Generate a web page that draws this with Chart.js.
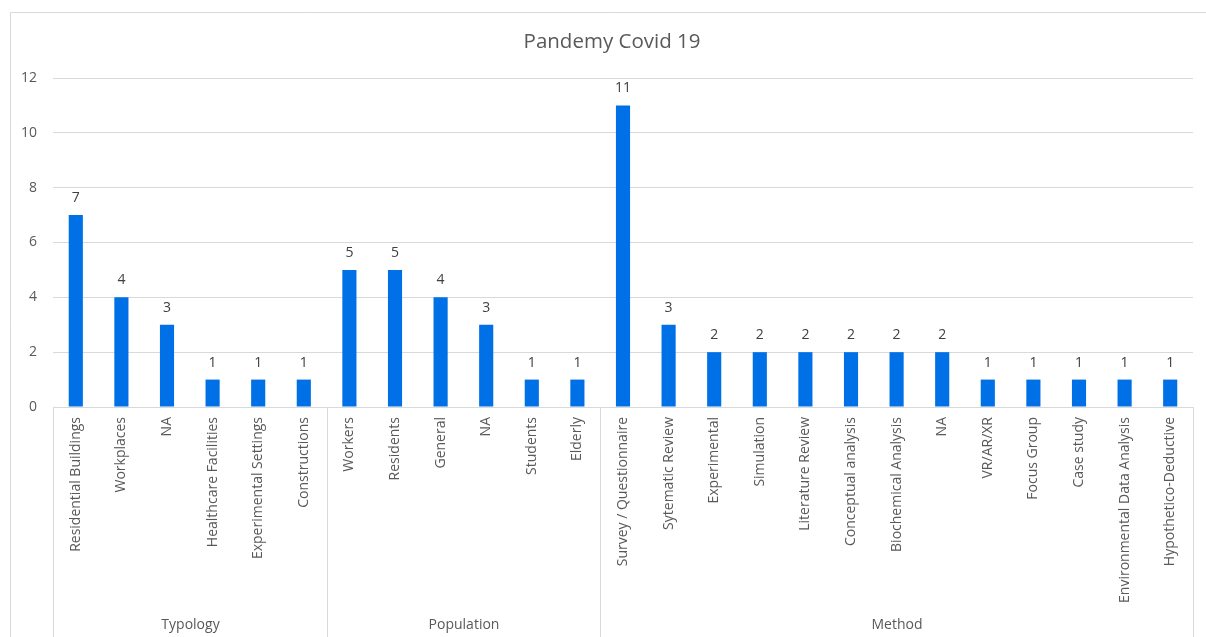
<!DOCTYPE html>
<html>
<head>
<meta charset="utf-8">
<script src="https://cdn.jsdelivr.net/npm/chart.js@4/dist/chart.umd.min.js"></script>
<style>
  html, body { margin: 0; padding: 0; background: #fff; }
  #wrap { width: 1206px; height: 637px; position: relative; }
</style>
</head>
<body>
<div id="wrap"><canvas id="c" width="1206" height="637"></canvas></div>
<script>
// Categories (inner level) and their groups (outer level)
const categories = [
  "Residential Buildings", "Workplaces", "NA", "Healthcare Facilities", "Experimental Settings", "Constructions",
  "Workers", "Residents", "General", "NA", "Students", "Elderly",
  "Survey / Questionnaire", "Sytematic Review", "Experimental", "Simulation", "Literature Review",
  "Conceptual analysis", "Biochemical Analysis", "NA", "VR/AR/XR", "Focus Group", "Case study",
  "Environmental Data Analysis", "Hypothetico-Deductive"
];
const groupNames = ["Typology", "Population", "Method"];
const groupSizes = [6, 6, 13];
const counts = [7, 4, 3, 1, 1, 1, 5, 5, 4, 3, 1, 1, 11, 3, 2, 2, 2, 2, 2, 2, 1, 1, 1, 1, 1];
const yTicks = [0, 2, 4, 6, 8, 10, 12];
const chartTitle = "Pandemy Covid 19";

const FONT = "'Open Sans', sans-serif";
const GRID = "#d9d9d9";
const TEXT = "#595959";
const BAR = "#0070e6";

// Frame, title, value labels and the grouped category axis
const decor = {
  id: "decor",
  beforeDraw(chart) {
    const ctx = chart.ctx;
    ctx.save();
    ctx.fillStyle = "#fff";
    ctx.fillRect(0, 0, chart.width, chart.height);
    ctx.strokeStyle = GRID;
    ctx.lineWidth = 1;
    ctx.beginPath();
    ctx.moveTo(10.5, chart.height);
    ctx.lineTo(10.5, 12.5);
    ctx.lineTo(chart.width, 12.5);
    ctx.stroke();
    ctx.fillStyle = TEXT;
    ctx.font = "20.5px " + FONT;
    ctx.textAlign = "center";
    ctx.textBaseline = "middle";
    ctx.fillText(chartTitle, 612, 42);
    ctx.restore();
  },
  afterDraw(chart) {
    const ctx = chart.ctx;
    const x = chart.scales.x;
    const area = chart.chartArea;
    const meta = chart.getDatasetMeta(0);
    ctx.save();
    // value labels
    ctx.fillStyle = "#404040";
    ctx.font = "14px " + FONT;
    ctx.textAlign = "center";
    ctx.textBaseline = "middle";
    meta.data.forEach((bar, i) => {
      ctx.fillText(String(counts[i]), bar.x, bar.y - 17);
    });
    // group separators and names
    const half = (x.getPixelForValue(1) - x.getPixelForValue(0)) / 2;
    ctx.strokeStyle = GRID;
    ctx.lineWidth = 1;
    let start = 0;
    const edges = [Math.round(x.getPixelForValue(0) - half) + 0.5];
    groupSizes.forEach(n => {
      start += n;
      edges.push(Math.round(x.getPixelForValue(start - 1) + half) + 0.5);
    });
    ctx.beginPath();
    edges.forEach(e => {
      ctx.moveTo(e, area.bottom);
      ctx.lineTo(e, chart.height);
    });
    ctx.stroke();
    ctx.fillStyle = TEXT;
    ctx.font = "14px " + FONT;
    groupNames.forEach((g, i) => {
      ctx.fillText(g, (edges[i] + edges[i + 1]) / 2, 625);
    });
    ctx.restore();
  }
};

new Chart(document.getElementById("c"), {
  type: "bar",
  data: {
    labels: categories,
    datasets: [{
      data: counts,
      backgroundColor: BAR,
      borderWidth: 0,
      categoryPercentage: 1,
      barPercentage: 0.31
    }]
  },
  options: {
    responsive: false,
    animation: false,
    events: [],
    layout: { padding: { left: 0, right: 13, top: 78, bottom: 0 } },
    plugins: {
      legend: { display: false },
      title: { display: false },
      tooltip: { enabled: false }
    },
    scales: {
      x: {
        grid: { display: false, drawTicks: false },
        border: { display: true, color: GRID, width: 1 },
        ticks: {
          color: TEXT,
          font: { family: FONT, size: 14 },
          minRotation: 90,
          maxRotation: 90,
          autoSkip: false,
          padding: 10
        },
        afterFit(s) { s.height = 230; }
      },
      y: {
        min: 0,
        max: 12,
        afterBuildTicks(s) { s.ticks = yTicks.map(v => ({ value: v })); },
        grid: { color: GRID, drawTicks: false },
        border: { display: false },
        ticks: {
          color: TEXT,
          font: { family: FONT, size: 14 },
          padding: 16
        },
        afterFit(s) { s.width = 53; }
      }
    }
  },
  plugins: [decor]
});
</script>
</body>
</html>
